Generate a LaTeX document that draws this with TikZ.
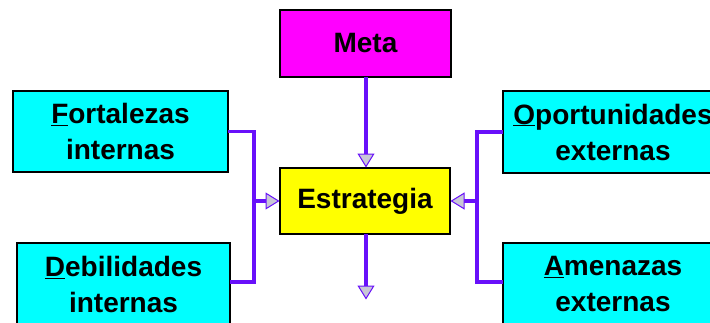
\documentclass[tikz,border=0pt]{standalone}
\usepackage{fontspec}
\setmainfont{Liberation Sans}
\usetikzlibrary{arrows.meta}
\definecolor{linecol}{RGB}{104,16,250}
\definecolor{tipfill}{RGB}{200,198,214}
\definecolor{cyanbox}{RGB}{0,255,255}
\definecolor{magbox}{RGB}{255,0,255}
\definecolor{yelbox}{RGB}{255,255,0}
\tikzset{
  box/.style={draw=black, line width=1.6pt, inner sep=0pt, outer sep=0pt,
    align=center, font=\bfseries\fontsize{28}{36}\selectfont},
  conn/.style={draw=linecol, line width=3.5pt},
  arr/.style={conn, -{Triangle[length=14pt,width=17pt,fill=tipfill,line width=1pt]}, shorten >=0.5pt}
}
\begin{document}
\begin{tikzpicture}[x=1pt,y=1pt]
\useasboundingbox (0,0) rectangle (710,322);
\clip (0,0) rectangle (710,322);
\fill[white] (0,0) rectangle (710,322);
\node[box, fill=magbox, minimum width=171pt, minimum height=67pt] (meta) at (365.5,278.5) {Meta};
\node[box, fill=yelbox, minimum width=170pt, minimum height=66pt] (est) at (365,121) {Estrategia};
\node[box, fill=cyanbox, minimum width=215pt, minimum height=81pt] (fort) at (120.5,190.5) {\underline{F}ortalezas\\internas};
\node[box, fill=cyanbox, minimum width=213pt, minimum height=83pt] (deb) at (123.5,37.5) {\underline{D}ebilidades\\internas};
\node[box, fill=cyanbox, minimum width=220pt, minimum height=82pt] (opp) at (613,190) {\underline{O}portunidades\\externas};
\node[box, fill=cyanbox, minimum width=220pt, minimum height=83pt] (ame) at (613,37.5) {\underline{A}menazas\\externas};
\coordinate (jl) at (254,121);
\coordinate (jr) at (477,121);
\coordinate (down) at (366,22);
\draw[conn] (fort.east) -| (jl) |- ([yshift=2.5pt]deb.east);
\draw[conn] (opp.west) -| (jr) |- ([yshift=2.5pt]ame.west);
\draw[arr] (jl) -- (est.west);
\draw[arr] (jr) -- (est.east);
\draw[arr] (meta.south -| down) -- (est.north -| down);
\draw[arr] (est.south -| down) -- (down);
\end{tikzpicture}
\end{document}
